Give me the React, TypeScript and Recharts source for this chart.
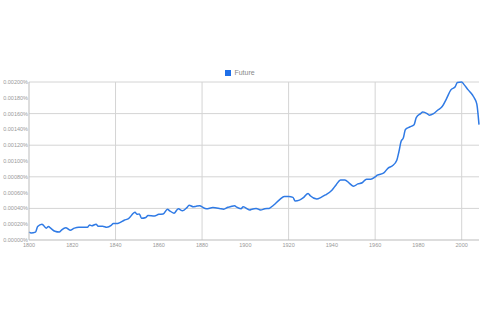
import { LineChart, Line, XAxis, YAxis, CartesianGrid, Legend } from 'recharts';

// years and frequencies (in %) for "Future"
const years = [
  1800, 1801, 1803, 1804, 1806, 1808, 1809, 1810, 1812, 1814, 1815, 1817, 1819, 1821, 1823, 1827,
  1828, 1829, 1831, 1832, 1834, 1836, 1838, 1839, 1841, 1842, 1844, 1846, 1849, 1850, 1851, 1852,
  1854, 1855, 1858, 1860, 1862, 1864, 1865, 1867, 1869, 1871, 1873, 1874, 1876, 1877, 1879, 1880,
  1882, 1885, 1888, 1890, 1892, 1893, 1895, 1896, 1898, 1899, 1902, 1903, 1905, 1907, 1909, 1911,
  1913, 1916, 1918, 1920, 1922, 1923, 1925, 1927, 1929, 1930, 1933, 1935, 1937, 1940, 1942, 1944,
  1946, 1948, 1950, 1952, 1954, 1956, 1958, 1960, 1961, 1964, 1966, 1968, 1970, 1971, 1972, 1973,
  1974, 1976, 1978, 1979, 1981, 1982, 1984, 1985, 1987, 1989, 1991, 1993, 1995, 1997, 1998, 2000,
  2001, 2003, 2005, 2006, 2007, 2008,
];

const future = [
  0.0001, 0.00009, 0.0001, 0.00017, 0.0002, 0.00015, 0.00017, 0.00015, 0.00011, 0.0001, 0.000125, 0.000155, 0.000125, 0.00015, 0.00016, 0.00016,
  0.00019, 0.00018, 0.0002, 0.000175, 0.000175, 0.00016, 0.000185, 0.00021, 0.00021, 0.00022, 0.00025, 0.00027, 0.00035, 0.000325, 0.00033, 0.000275,
  0.000285, 0.00031, 0.000305, 0.000325, 0.00033, 0.00039, 0.00037, 0.00034, 0.000395, 0.00037, 0.00041, 0.00044, 0.00042, 0.000425, 0.000435, 0.00042,
  0.000395, 0.00041, 0.0004, 0.00039, 0.000415, 0.00042, 0.000435, 0.000415, 0.000395, 0.00042, 0.00038, 0.00039, 0.0004, 0.00038, 0.000395, 0.0004,
  0.00044, 0.000515, 0.00055, 0.00055, 0.00054, 0.000495, 0.000505, 0.00054, 0.00059, 0.00056, 0.00052, 0.00054, 0.00057, 0.00063, 0.0007, 0.00076,
  0.00076, 0.00072, 0.00068, 0.00071, 0.000725, 0.00077, 0.00077, 0.0008, 0.00082, 0.00085, 0.00091, 0.00094, 0.00101, 0.00112, 0.00125, 0.00129,
  0.0014, 0.00143, 0.00146, 0.00155, 0.0016, 0.00162, 0.0016, 0.00158, 0.0016, 0.001645, 0.00169, 0.00179, 0.0019, 0.00194, 0.001995, 0.002,
  0.00197, 0.0019, 0.001835, 0.00179, 0.00172, 0.00146,
];

const xTicks = [1800, 1820, 1840, 1860, 1880, 1900, 1920, 1940, 1960, 1980, 2000];
const yTicks = [0, 0.0002, 0.0004, 0.0006, 0.0008, 0.001, 0.0012, 0.0014, 0.0016, 0.0018, 0.002];
const xGrid = [1840, 1880, 1920, 1960, 2000];
const yGrid = [0.0004, 0.0008, 0.0012, 0.0016, 0.002];

const data = years.map((year, i) => ({ year, future: future[i] }));

const tickStyle = { fill: '#999', fontSize: 5.5, fontFamily: 'Liberation Sans, Arial, sans-serif' };

function LegendContent() {
  return (
    <div style={{ display: 'flex', justifyContent: 'center', alignItems: 'center', fontFamily: 'Liberation Sans, Arial, sans-serif', fontSize: 7, color: '#888' }}>
      <span style={{ display: 'inline-block', width: 6, height: 6, background: '#1f6fe8', marginRight: 3 }} />
      <span>Future</span>
    </div>
  );
}

export default function App() {
  return (
    <div style={{ position: 'absolute', left: 0, top: 0, width: 480, height: 320, background: '#fff' }}>
      <LineChart width={480} height={320} data={data} margin={{ top: 82, right: 1, bottom: 60, left: 0 }}>
        <CartesianGrid stroke="#d4d4d4" verticalValues={xGrid} horizontalValues={yGrid} />
        <XAxis
          dataKey="year"
          type="number"
          domain={[1800, 2008]}
          ticks={xTicks}
          height={20}
          tickLine={false}
          tickSize={2}
          tickMargin={1}
          stroke="#bbb"
          tick={tickStyle}
          interval={0}
        />
        <YAxis
          type="number"
          domain={[0, 0.002]}
          ticks={yTicks}
          width={29}
          tickLine={false}
          tickSize={0}
          tickMargin={1}
          stroke="#bbb"
          tick={tickStyle}
          interval={0}
          tickFormatter={(v: number) => `${v.toFixed(5)}%`}
        />
        <Legend verticalAlign="middle" content={<LegendContent />} wrapperStyle={{ top: 69, left: 0, width: 480 }} />
        <Line
          type="monotone"
          dataKey="future"
          stroke="#2f7ae5"
          strokeWidth={1.5}
          dot={false}
          isAnimationActive={false}
        />
      </LineChart>
    </div>
  );
}
